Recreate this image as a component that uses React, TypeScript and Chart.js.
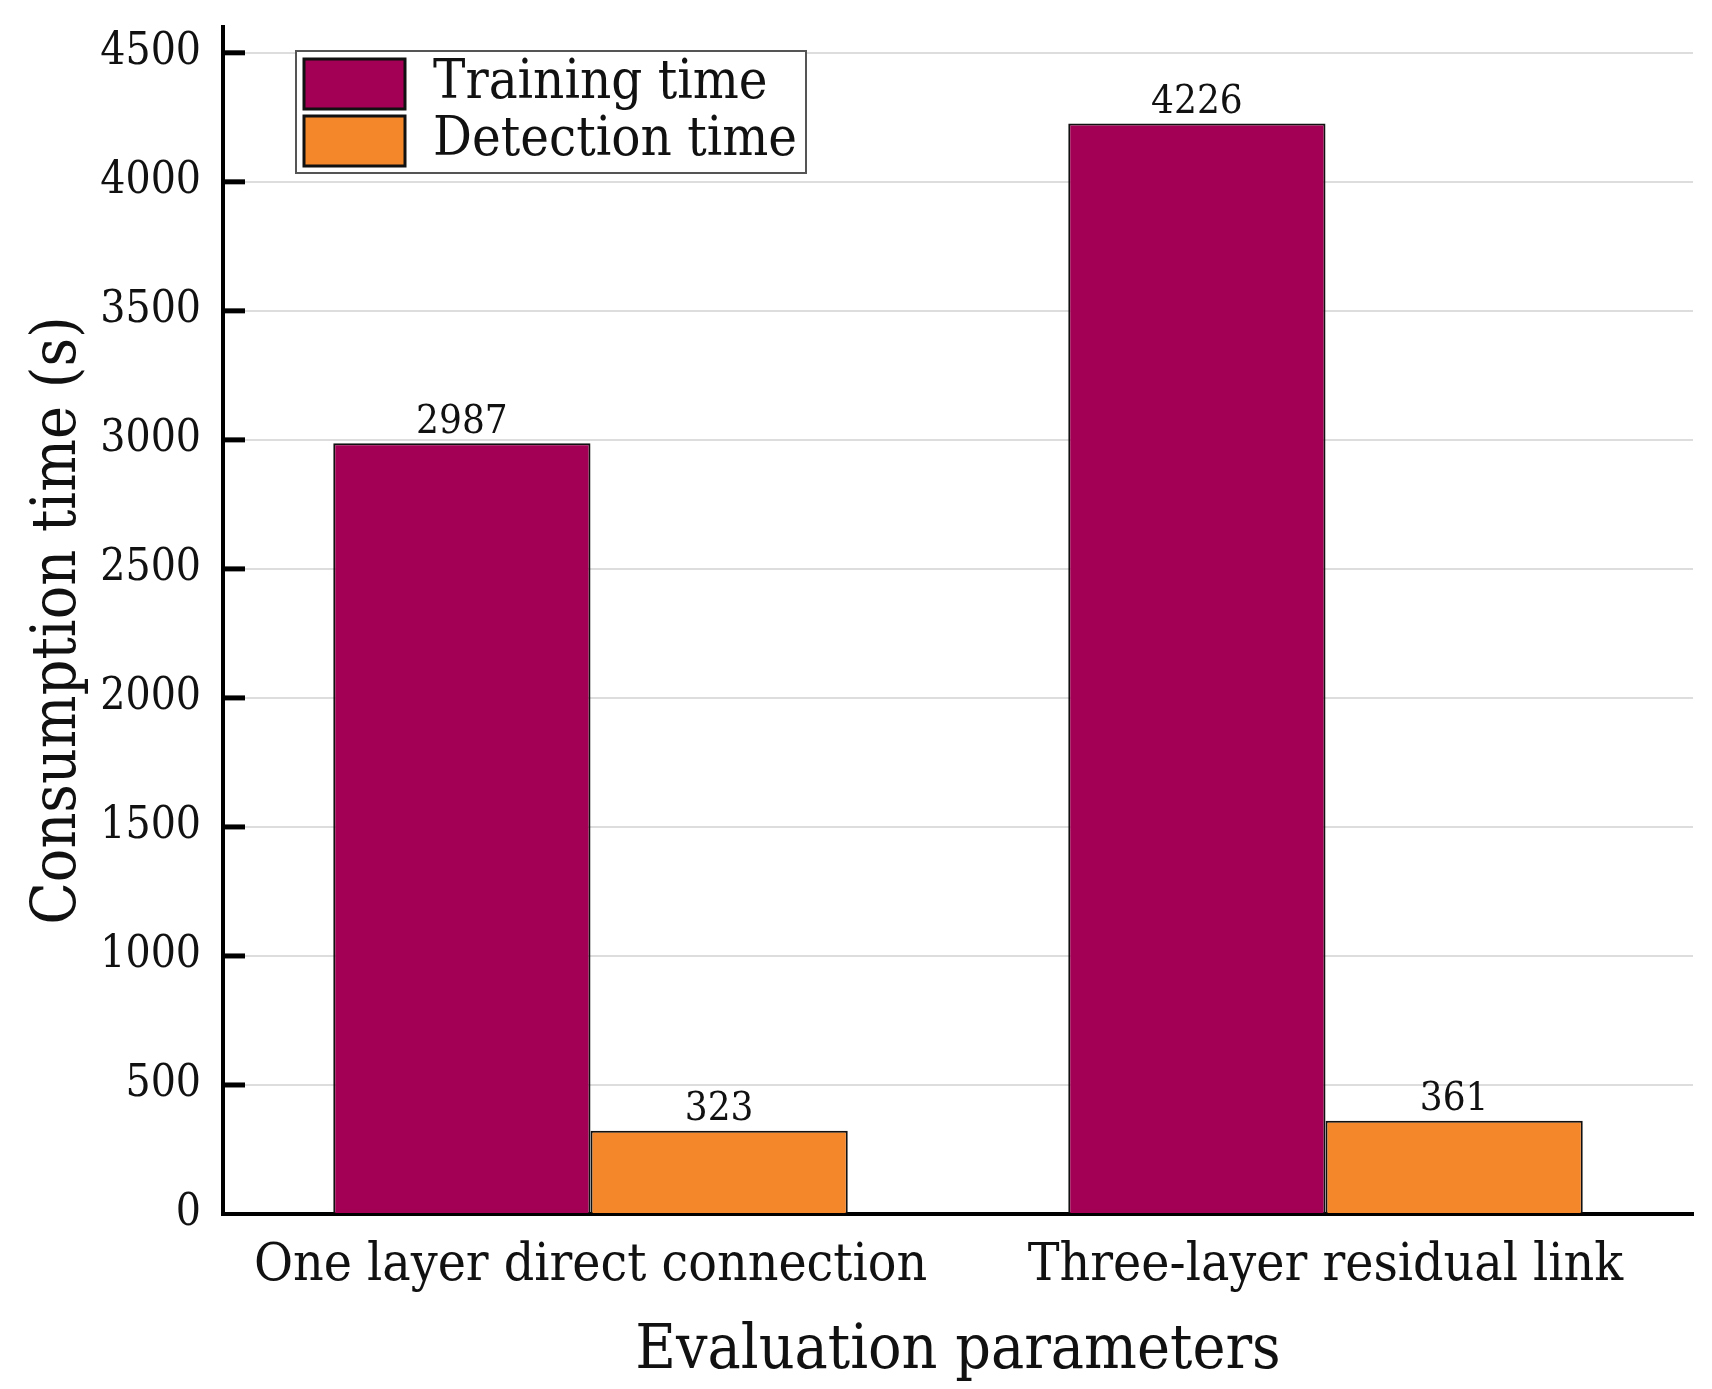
import React, { useEffect, useRef } from "react";
import { Chart, registerables } from "chart.js";

Chart.register(...registerables);

const categories = ["One layer direct connection", "Three-layer residual link"];
const trainingTime = [2987, 4226];
const detectionTime = [323, 361];
const seriesNames = ["Training time", "Detection time"];
const yTicks = [0, 500, 1000, 1500, 2000, 2500, 3000, 3500, 4000, 4500];

const FONT = "'DejaVu Serif Condensed', 'DejaVu Serif', serif";
const COLOR_TRAIN = "#A30055";
const COLOR_DETECT = "#F5872B";

const extrasPlugin = {
  id: "extras",
  afterDraw(chart: any) {
    const ctx = chart.ctx;
    const area = chart.chartArea;
    const y = chart.scales.y;
    // inward ticks
    ctx.save();
    ctx.strokeStyle = "#000";
    ctx.lineWidth = 5;
    for (const v of yTicks) {
      const py = y.getPixelForValue(v);
      if (v === 0) continue;
      ctx.beginPath();
      ctx.moveTo(area.left, py);
      ctx.lineTo(area.left + 22, py);
      ctx.stroke();
    }
    ctx.restore();

    // value labels
    ctx.save();
    ctx.fillStyle = "#111";
    ctx.font = `40px ${FONT}`;
    ctx.textAlign = "center";
    ctx.textBaseline = "bottom";
    chart.data.datasets.forEach((ds: any, di: number) => {
      const meta = chart.getDatasetMeta(di);
      meta.data.forEach((bar: any, i: number) => {
        ctx.fillText(String(ds.data[i]), bar.x, bar.y - 1);
      });
    });
    ctx.restore();

    // legend
    ctx.save();
    const lx = area.left + 73;
    const ly = area.top + 24;
    const lw = 510;
    const lh = 122;
    ctx.fillStyle = "#fff";
    ctx.fillRect(lx, ly, lw, lh);
    ctx.strokeStyle = "#555";
    ctx.lineWidth = 2;
    ctx.strokeRect(lx, ly, lw, lh);
    chart.data.datasets.forEach((ds: any, di: number) => {
      const ry = ly + 8 + di * 57;
      ctx.fillStyle = ds.backgroundColor;
      ctx.fillRect(lx + 8, ry, 101, 50);
      ctx.strokeStyle = "#111";
      ctx.lineWidth = 3;
      ctx.strokeRect(lx + 8, ry, 101, 50);
      ctx.fillStyle = "#111";
      ctx.font = `54px ${FONT}`;
      ctx.textAlign = "left";
      ctx.textBaseline = "middle";
      ctx.fillText(ds.label, lx + 137, ry + 25);
    });
    ctx.restore();
  },
};

export default function App() {
  const ref = useRef<HTMLCanvasElement | null>(null);

  useEffect(() => {
    document.body.style.margin = "0";
    document.body.style.overflow = "hidden";
    const canvas = ref.current!;
    const chart = new Chart(canvas, {
      type: "bar",
      data: {
        labels: categories,
        datasets: [
          {
            label: seriesNames[0],
            data: trainingTime,
            backgroundColor: COLOR_TRAIN,
            borderColor: "#111",
            borderWidth: 2,
            categoryPercentage: 0.7,
            barPercentage: 1.0,
          },
          {
            label: seriesNames[1],
            data: detectionTime,
            backgroundColor: COLOR_DETECT,
            borderColor: "#111",
            borderWidth: 2,
            categoryPercentage: 0.7,
            barPercentage: 1.0,
          },
        ],
      },
      options: {
        animation: false,
        responsive: false,
        devicePixelRatio: 1,
        layout: { padding: { left: 0, right: 19, top: 27, bottom: 0 } },
        plugins: {
          legend: { display: false },
          tooltip: { enabled: false },
        },
        scales: {
          x: {
            grid: { display: false, drawTicks: false },
            border: { display: true, color: "#000", width: 4 },
            ticks: {
              color: "#111",
              font: { family: FONT, size: 53 },
              padding: 20,
              maxRotation: 0,
            },
            title: {
              display: true,
              text: "Evaluation parameters",
              color: "#111",
              font: { family: FONT, size: 62 },
              padding: { top: 3, bottom: 0 },
            },
            afterFit(scale: any) {
              scale.height = 1389 - 1214;
              scale.paddingLeft = 0;
              scale.paddingRight = 0;
            },
          },
          y: {
            min: 0,
            max: 4600,
            grid: { color: "#dddddd", lineWidth: 2, drawTicks: false },
            border: { display: true, color: "#000", width: 4 },
            afterBuildTicks(scale: any) {
              scale.ticks = yTicks.map((v) => ({ value: v }));
            },
            ticks: {
              color: "#111",
              font: { family: FONT, size: 44 },
              padding: 22,
              callback: (v: any) => String(v),
            },
            title: {
              display: true,
              text: "Consumption time (s)",
              color: "#111",
              font: { family: FONT, size: 62 },
              padding: { top: 22, bottom: 10 },
            },
            afterFit(scale: any) {
              scale.width = 223;
              scale.paddingTop = 0;
              scale.paddingBottom = 0;
            },
          },
        },
      },
      plugins: [extrasPlugin],
    });
    return () => chart.destroy();
  }, []);

  return (
    <div>
      <canvas ref={ref} width={1712} height={1389} style={{ display: "block", width: 1712, height: 1389 }} />
    </div>
  );
}
